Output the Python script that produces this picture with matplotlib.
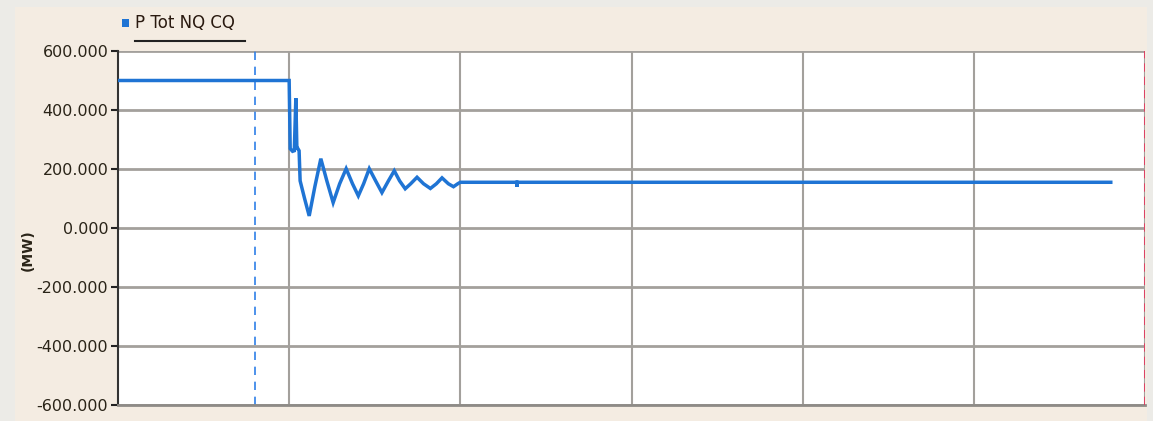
import matplotlib
matplotlib.use("Agg")
import matplotlib.pyplot as plt
from matplotlib.patches import Rectangle
import numpy as np

# Data (time in grid units, power in MW)
t = [0.0, 1.0, 1.006, 1.02, 1.030, 1.039, 1.045, 1.05, 1.058, 1.064, 1.09, 1.117,
     1.15, 1.185, 1.22, 1.257, 1.295, 1.333, 1.37, 1.404, 1.435, 1.468, 1.505, 1.542,
     1.58, 1.614, 1.645, 1.678, 1.71, 1.747, 1.785, 1.825, 1.86, 1.893, 1.93, 1.96,
     1.985, 2.0, 2.33, 2.331, 2.332, 5.80]
p = [500, 500, 269, 260, 262, 440, 270, 270, 262, 160, 100, 41,
     140, 235, 160, 86, 150, 201, 150, 109, 150, 201, 160, 120,
     160, 194, 160, 133, 150, 172, 150, 134, 150, 170, 150, 140,
     150, 155, 155, 140, 155, 155]
yticks = [600, 400, 200, 0, -200, -400, -600]
ytick_labels = ["600.000", "400.000", "200.000", "0.000", "-200.000", "-400.000", "-600.000"]
xgrid = [1, 2, 3, 4, 5, 6]
cursor_x = 0.80
series_name = "P Tot NQ CQ"
unit_label = "(MW)"

W, H = 1153, 421
fig = plt.figure(figsize=(W / 100, H / 100), dpi=100)
fig.patch.set_facecolor("#ecebe7")
fig.add_artist(Rectangle((15 / W, 0), (1147 - 15) / W, 1 - 7 / H,
                         transform=fig.transFigure, facecolor="#f4ece2",
                         edgecolor="none", zorder=0))

ax = fig.add_axes([118 / W, 1 - 405 / H, (1145 - 118) / W, (405 - 51) / H])
ax.set_facecolor("white")
ax.set_xlim(0, 6)
ax.set_ylim(-600, 600)

for yv in yticks:
    ax.axhline(yv, color="#a3a09c", lw=2.0, zorder=1)
for xv in xgrid:
    ax.axvline(xv, color="#a3a09c", lw=1.5, zorder=1)

ax.axvline(cursor_x, color="#2f7fe8", lw=1.2, ls=(0, (5, 4)), zorder=2)
ax.axvline(6, color="#e8305a", lw=1.2, ls=(0, (5, 3)), zorder=3)

ax.plot(t, p, color="#1f74d4", lw=2.5, solid_joinstyle="miter", zorder=4)

ax.set_xticks([])
ax.set_yticks(yticks)
ax.set_yticklabels(ytick_labels)
ax.tick_params(axis="y", direction="out", length=5, width=1.5, color="#222222",
               pad=2, labelsize=11.5, labelcolor="#2a2418")
for lab in ax.get_yticklabels():
    lab.set_family(["Liberation Sans Narrow", "DejaVu Sans"])

for s in ["top", "right"]:
    ax.spines[s].set_visible(False)
ax.spines["left"].set_color("#333333")
ax.spines["left"].set_linewidth(1.5)
ax.spines["bottom"].set_color("#8e8b87")
ax.spines["bottom"].set_linewidth(2)

fig.text(28 / W, 1 - 250 / H, unit_label, rotation=90, ha="center", va="center",
         fontsize=10, fontweight="bold", color="#2a2418",
         family=["Liberation Sans Narrow", "DejaVu Sans"])

# legend
fig.add_artist(Rectangle((122 / W, 1 - 27 / H), 7 / W, 8 / H, transform=fig.transFigure,
                         facecolor="#1f74d4", edgecolor="none"))
fig.text(135 / W, 1 - 23 / H, series_name, ha="left", va="center", fontsize=12,
         color="#2a1a10", family=["Liberation Sans Narrow", "DejaVu Sans"])
fig.add_artist(plt.Line2D([135 / W, 245 / W], [1 - 41 / H, 1 - 41 / H],
                          transform=fig.transFigure, color="#222222", lw=1.5))

fig.savefig("out.png", dpi=100, facecolor=fig.get_facecolor())
